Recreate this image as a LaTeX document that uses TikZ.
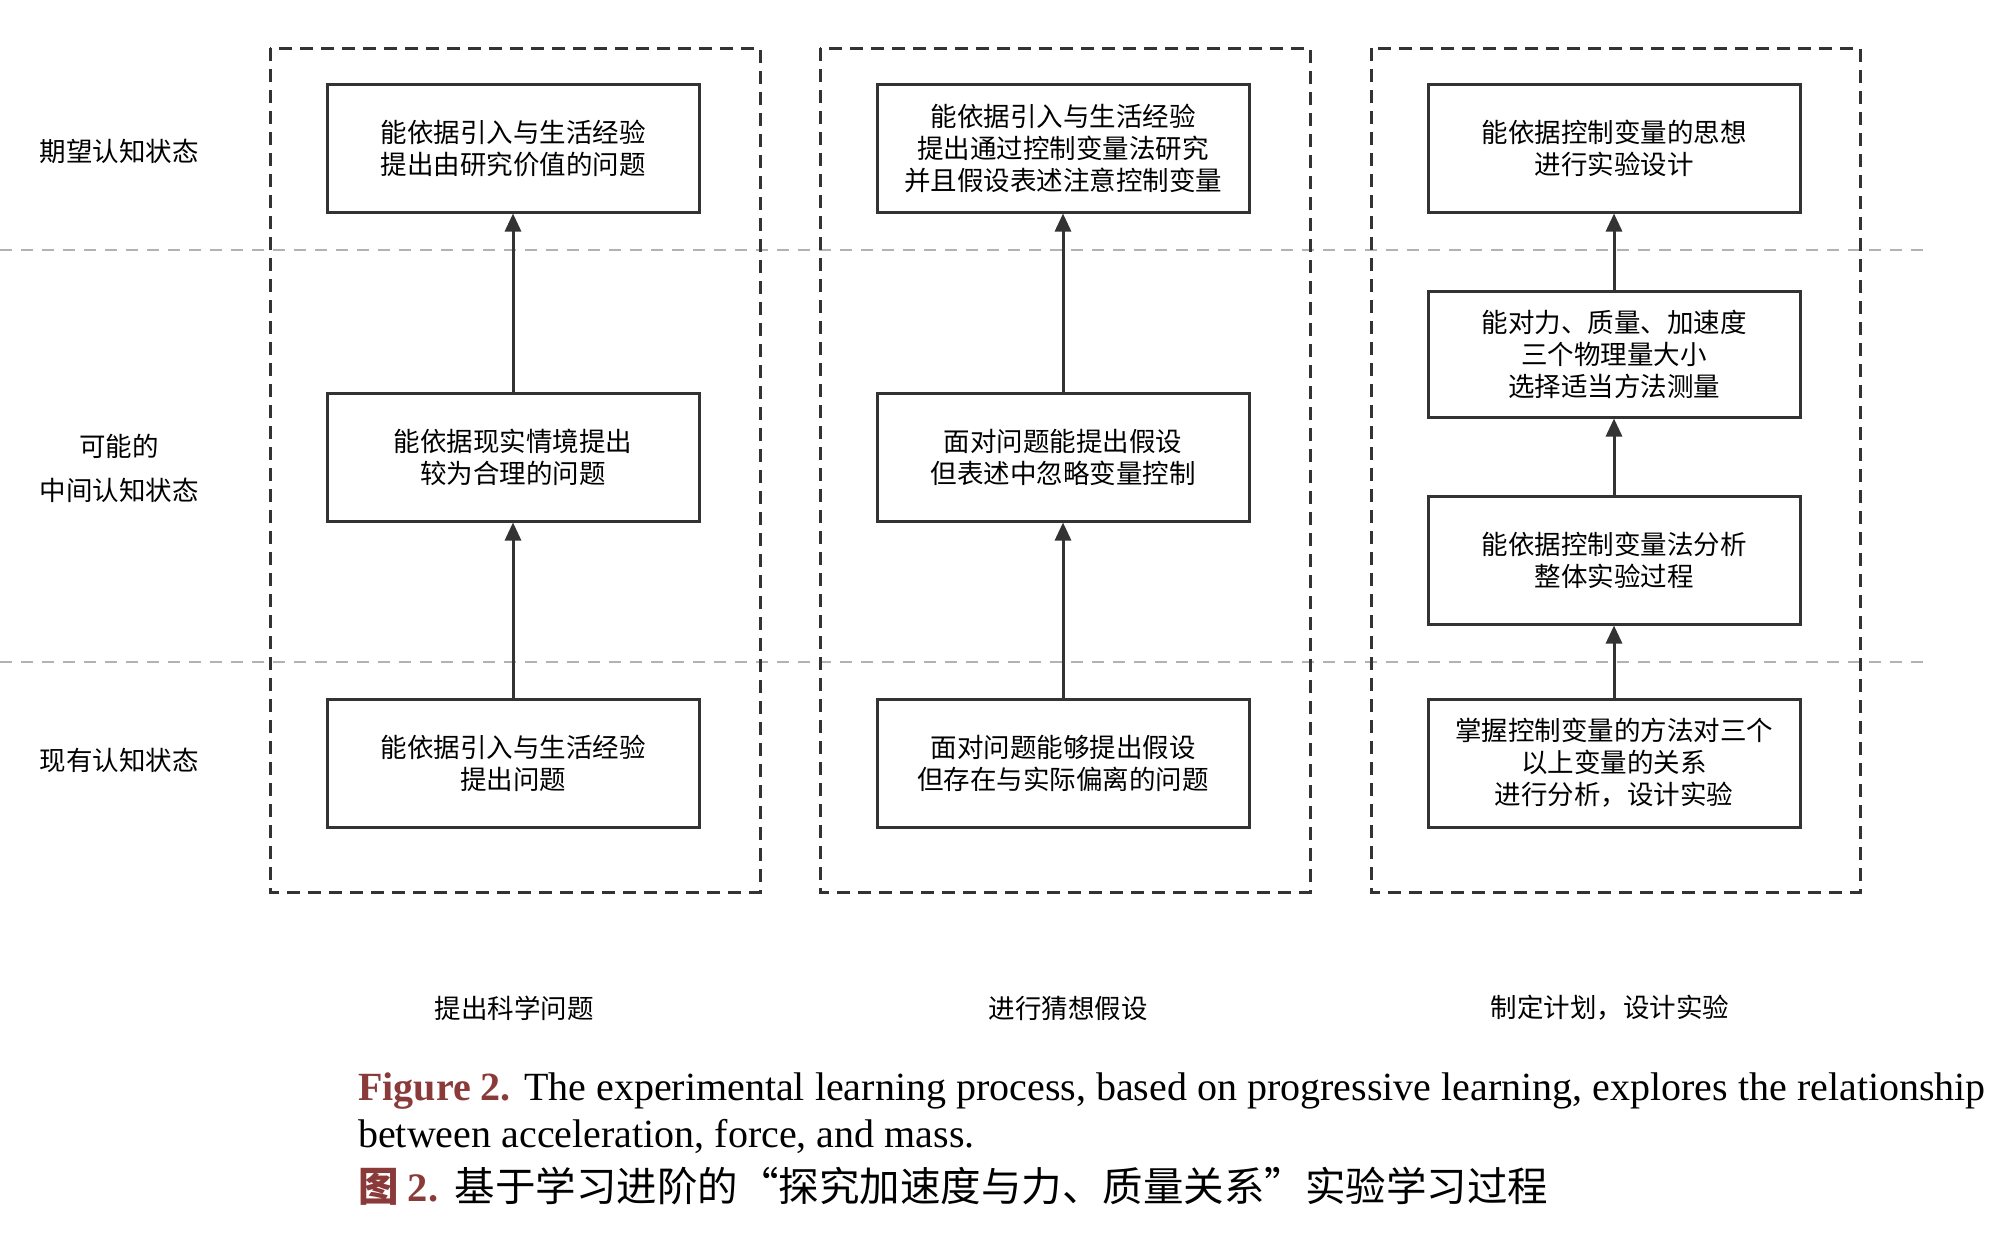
\documentclass[tikz,border=0pt]{standalone}
\usepackage{fontspec}
\setmainfont{Liberation Serif}
\newfontfamily\cjk{Noto Sans CJK SC}
\usetikzlibrary{arrows.meta}
\definecolor{capred}{HTML}{8B3A3A}
\definecolor{boxline}{HTML}{333333}
\tikzset{
  stagebox/.style={draw=boxline, line width=3pt, rectangle, minimum width=372pt, minimum height=128pt, align=center, font=\cjk\fontsize{26.5}{32}\selectfont, inner sep=0pt},
  colframe/.style={draw=boxline, line width=3pt, dash pattern=on 13pt off 8pt},
  levelline/.style={draw=gray!60, line width=2pt, dash pattern=on 12pt off 9pt},
  uparrow/.style={draw=boxline, line width=3pt, -{Triangle[length=18pt,width=16pt]}},
  sidelabel/.style={align=center, font=\cjk\fontsize{26.5}{44}\selectfont, inner sep=0pt},
  caption/.style={anchor=west, inner sep=0pt, font=\fontsize{40}{44}\selectfont}
}
\begin{document}
\begin{tikzpicture}[x=1pt, y=-1pt]
\useasboundingbox[fill=white] (0,0) rectangle (2000,1232);
% level separators
\coordinate (l1a) at (0,250); \coordinate (l1b) at (1926,250);
\coordinate (l2a) at (0,662); \coordinate (l2b) at (1926,662);
\draw[levelline] (l1a) -- (l1b);
\draw[levelline] (l2a) -- (l2b);
% column frames
\coordinate (f1a) at (270,48); \coordinate (f1b) at (760,892);
\coordinate (f2a) at (820,48); \coordinate (f2b) at (1310,892);
\coordinate (f3a) at (1371,48); \coordinate (f3b) at (1860,892);
\draw[colframe] (f1a) rectangle (f1b);
\draw[colframe] (f2a) rectangle (f2b);
\draw[colframe] (f3a) rectangle (f3b);
% side labels
\node[sidelabel] (s1) at (119,151) {期望认知状态};
\node[sidelabel] (s2) at (119,468) {可能的\\中间认知状态};
\node[sidelabel] (s3) at (119,760) {现有认知状态};
% column 1
\node[stagebox] (a1) at (513,148) {能依据引入与生活经验\\提出由研究价值的问题};
\node[stagebox] (a2) at (513,457) {能依据现实情境提出\\较为合理的问题};
\node[stagebox] (a3) at (513,763) {能依据引入与生活经验\\提出问题};
\draw[uparrow] (a3) -- (a2);
\draw[uparrow] (a2) -- (a1);
% column 2
\node[stagebox] (b1) at (1063,148) {能依据引入与生活经验\\提出通过控制变量法研究\\并且假设表述注意控制变量};
\node[stagebox] (b2) at (1063,457) {面对问题能提出假设\\但表述中忽略变量控制};
\node[stagebox] (b3) at (1063,763) {面对问题能够提出假设\\但存在与实际偏离的问题};
\draw[uparrow] (b3) -- (b2);
\draw[uparrow] (b2) -- (b1);
% column 3
\node[stagebox] (c1) at (1614,148) {能依据控制变量的思想\\进行实验设计};
\node[stagebox, minimum height=126pt] (c2) at (1614,354) {能对力、质量、加速度\\三个物理量大小\\选择适当方法测量};
\node[stagebox] (c3) at (1614,560) {能依据控制变量法分析\\整体实验过程};
\node[stagebox] (c4) at (1614,763) {掌握控制变量的方法对三个\\以上变量的关系\\进行分析，设计实验};
\draw[uparrow] (c4) -- (c3);
\draw[uparrow] (c3) -- (c2);
\draw[uparrow] (c2) -- (c1);
% column titles
\node[sidelabel] (t1) at (514,1008) {提出科学问题};
\node[sidelabel] (t2) at (1068,1008) {进行猜想假设};
\node[sidelabel] (t3) at (1610,1008) {制定计划，设计实验};
% caption
\node[caption] (cap1) at (358,1091) {\textcolor{capred}{\bfseries Figure 2.} The experimental learning process, based on progressive learning, explores the relationship};
\node[caption] (cap2) at (358,1136) {between acceleration, force, and mass.};
\node[caption, font=\cjk\fontsize{40.5}{44}\selectfont] (cap3) at (358,1186) {\textcolor{capred}{\bfseries 图 \fontspec{Liberation Serif}\bfseries 2.}\hspace{0.4em}基于学习进阶的“探究加速度与力、质量关系”实验学习过程};
\end{tikzpicture}
\end{document}
